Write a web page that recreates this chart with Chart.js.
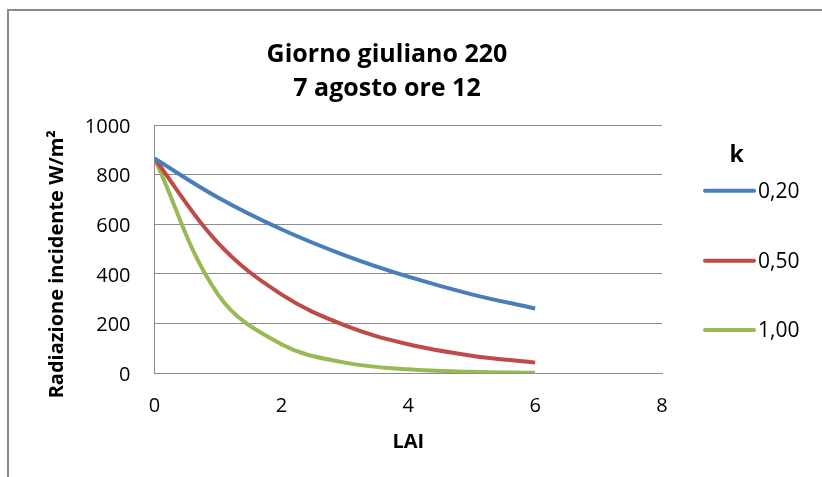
<!DOCTYPE html>
<html>
<head>
<meta charset="utf-8">
<script src="https://cdn.jsdelivr.net/npm/chart.js@4/dist/chart.umd.min.js"></script>
<style>
  html, body { margin: 0; padding: 0; background: #ffffff; }
  #wrap { width: 822px; height: 477px; position: relative; }
</style>
</head>
<body>
<div id="wrap"><canvas id="c"></canvas></div>
<script>
// ---- data ----
const lai = [0, 1, 2, 3, 4, 5, 6];
const seriesLabels = ['0,20', '0,50', '1,00'];
const k020 = [865, 708, 580, 475, 389, 318, 261];
const k050 = [865, 525, 318, 193, 117, 71, 43];
const k100 = [865, 318, 117, 43, 16, 6, 2];
const titleLines = ['Giorno giuliano 220', '7 agosto ore 12'];
const yTitle = 'Radiazione incidente W/m²';
const xTitle = 'LAI';
const legendTitle = 'k';
const xTickValues = [0, 2, 4, 6, 8];
const yTickValues = [0, 200, 400, 600, 800, 1000];
const seriesColors = ['#4A7EBB', '#BE4B48', '#98B954'];

const FONT = "'Open Sans', 'Liberation Sans', sans-serif";
const GRID = '#8C8C8C';

function toPoints(values) {
  return lai.map((x, i) => ({ x: x, y: values[i] }));
}

const decor = {
  id: 'decor',
  beforeDraw(chart) {
    const ctx = chart.ctx;
    ctx.save();
    ctx.fillStyle = '#ffffff';
    ctx.fillRect(0, 0, chart.width, chart.height);
    ctx.strokeStyle = '#8A8A8A';
    ctx.lineWidth = 2;
    ctx.strokeRect(8, 10, chart.width + 50, chart.height + 50);
    ctx.restore();
  },
  afterDraw(chart) {
    const ctx = chart.ctx;
    ctx.save();
    ctx.fillStyle = '#000000';
    // chart title
    ctx.font = 'bold 25px ' + FONT;
    ctx.textAlign = 'center';
    ctx.textBaseline = 'alphabetic';
    ctx.fillText(titleLines[0], 387, 62);
    ctx.fillText(titleLines[1], 387, 95.5);
    // y-axis title (rotated)
    ctx.save();
    ctx.translate(62.7, 264.2);
    ctx.rotate(-Math.PI / 2);
    ctx.font = 'bold 20px ' + FONT;
    ctx.textAlign = 'center';
    ctx.textBaseline = 'alphabetic';
    ctx.fillText(yTitle, 0, 0);
    ctx.restore();
    // legend
    ctx.font = 'bold 23px ' + FONT;
    ctx.textAlign = 'center';
    ctx.fillText(legendTitle, 736.7, 161.7);
    const rows = [190.7, 260.7, 330];
    chart.data.datasets.forEach((ds, i) => {
      const y = rows[i];
      ctx.strokeStyle = ds.borderColor;
      ctx.lineWidth = 4;
      ctx.lineCap = 'round';
      ctx.beginPath();
      ctx.moveTo(705, y);
      ctx.lineTo(754, y);
      ctx.stroke();
      ctx.font = '21px ' + FONT;
      ctx.textAlign = 'left';
      ctx.fillStyle = '#000000';
      ctx.fillText(ds.label, 758, y + 7.4);
    });
    ctx.restore();
  }
};

const datasets = [k020, k050, k100].map((vals, i) => ({
  label: seriesLabels[i],
  data: toPoints(vals),
  borderColor: seriesColors[i],
  backgroundColor: seriesColors[i],
  borderWidth: 4,
  pointRadius: 0,
  pointHoverRadius: 0,
  tension: 0.38,
  fill: false
}));

new Chart(document.getElementById('c'), {
  type: 'line',
  data: { datasets: datasets },
  plugins: [decor],
  options: {
    responsive: true,
    maintainAspectRatio: false,
    animation: false,
    devicePixelRatio: 1,
    layout: { padding: { left: 0, right: 160, top: 125, bottom: 0 } },
    plugins: {
      legend: { display: false },
      title: { display: false },
      tooltip: { enabled: false }
    },
    scales: {
      x: {
        type: 'linear',
        min: xTickValues[0],
        max: xTickValues[xTickValues.length - 1],
        afterBuildTicks(scale) { scale.ticks = xTickValues.map(v => ({ value: v })); },
        afterFit(scale) { scale.height = 103.7; },
        grid: { display: false, drawTicks: false },
        border: { display: true, color: GRID, width: 1 },
        ticks: {
          padding: 21, color: '#000000', font: { family: FONT, size: 20 },
          callback: (v) => String(v)
        },
        title: {
          display: true,
          text: xTitle,
          color: '#000000',
          font: { family: FONT, size: 20, weight: 'bold' },
          padding: { top: 0, bottom: 23 }
        }
      },
      y: {
        type: 'linear',
        min: yTickValues[0],
        max: yTickValues[yTickValues.length - 1],
        afterBuildTicks(scale) { scale.ticks = yTickValues.map(v => ({ value: v })); },
        afterFit(scale) { scale.width = 154.5; },
        grid: { display: true, color: GRID, lineWidth: 1, drawTicks: false },
        border: { display: true, color: GRID, width: 1 },
        ticks: {
          padding: 24, labelOffset: 2, color: '#000000', font: { family: FONT, size: 20 },
          callback: (v) => String(v)
        }
      }
    }
  }
});
</script>
</body>
</html>
